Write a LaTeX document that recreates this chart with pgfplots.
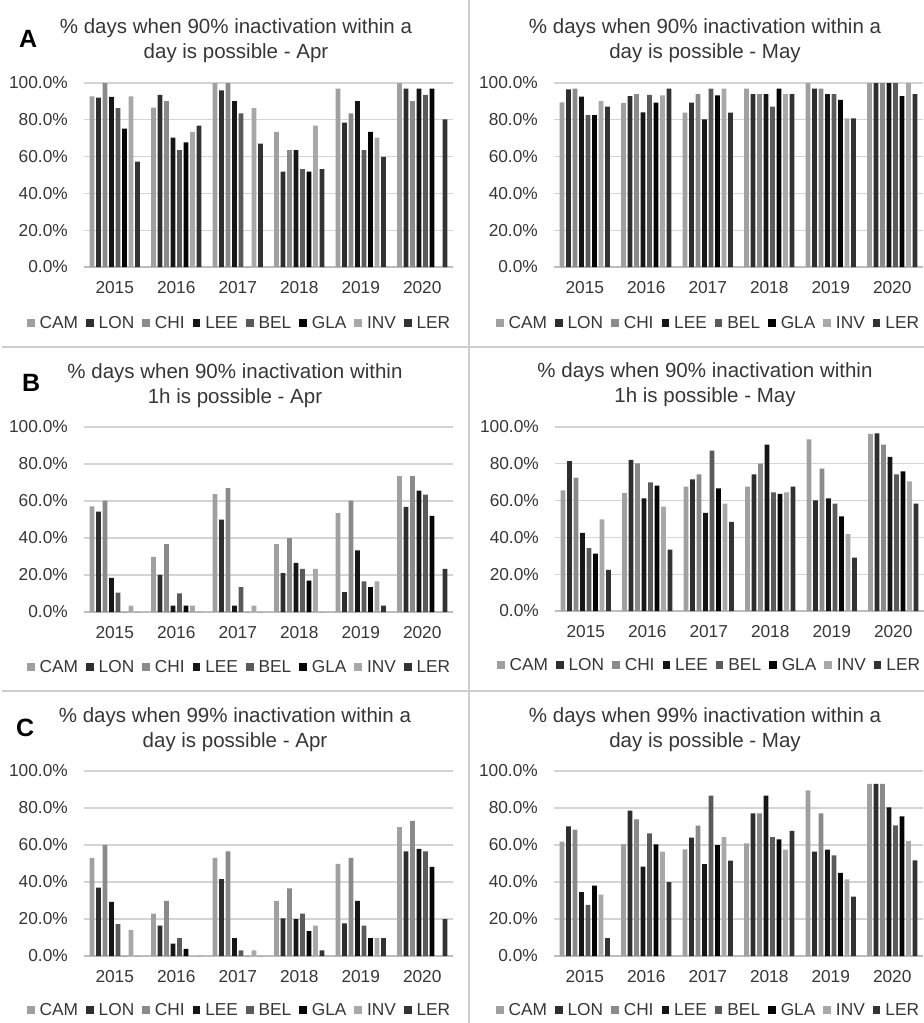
\documentclass[border=0pt]{standalone}
\usepackage{fontspec}
\setmainfont{Liberation Sans}
\usepackage{pgfplots}
\usepackage{pgfplotstable}
\pgfplotsset{compat=1.18}

% series colours (grey scale)
\definecolor{cCAM}{HTML}{A0A0A0}
\definecolor{cLON}{HTML}{2E2E2E}
\definecolor{cCHI}{HTML}{8A8A8A}
\definecolor{cLEE}{HTML}{161616}
\definecolor{cBEL}{HTML}{5A5A5A}
\definecolor{cGLA}{HTML}{050505}
\definecolor{cINV}{HTML}{A8A8A8}
\definecolor{cLER}{HTML}{333333}
\definecolor{txt}{HTML}{363636}
\definecolor{gridc}{HTML}{D4D4D4}
\definecolor{basec}{HTML}{BDBDBD}
\definecolor{sepc}{HTML}{CDCDCD}

% x = year index (0 = 2015 ... 5 = 2020), values in percent
\pgfplotstableread{
x CAM LON CHI LEE BEL GLA INV LER
0 92.8 92.0 100 92.4 86.4 75.2 92.8 57.3
1 86.6 93.5 90.1 70.3 63.5 67.8 73.4 76.9
2 100 96.0 100 90.1 83.5 0 86.4 67.1
3 73.4 51.9 63.5 63.5 53.2 51.9 76.9 53.2
4 96.9 78.5 83.5 90.1 63.5 73.4 70.3 59.9
5 100 96.9 90.1 96.9 93.5 96.9 0 80.3
}\dayNinetyApr

\pgfplotstableread{
x CAM LON CHI LEE BEL GLA INV LER
0 89.5 96.6 96.9 92.6 82.6 82.6 90.1 87.2
1 89.2 92.9 93.9 84.1 93.5 89.3 93.3 96.9
2 83.9 89.3 93.9 80.3 96.9 93.3 96.9 83.9
3 96.9 93.9 93.9 93.9 87.2 96.9 93.9 93.9
4 100 96.9 96.9 93.9 93.9 90.8 80.8 80.8
5 100 100 100 100 100 92.9 100 93.9
}\dayNinetyMay

\pgfplotstableread{
x CAM LON CHI LEE BEL GLA INV LER
0 57.1 54.2 60.2 18.4 10.5 0 3.4 0
1 29.8 20.1 36.7 3.4 10.1 3.4 3.4 0
2 63.7 49.9 66.9 3.4 13.4 0 3.4 0
3 36.7 21.0 40.0 26.6 23.3 17.0 23.3 0
4 53.5 10.8 60.2 33.3 16.6 13.4 16.6 3.4
5 73.4 56.8 73.4 65.6 63.5 51.9 0 23.3
}\hourNinetyApr

\pgfplotstableread{
x CAM LON CHI LEE BEL GLA INV LER
0 65.6 81.5 72.5 42.4 34.2 31.2 49.8 22.3
1 64.1 82.1 80.3 61.2 69.9 68.1 56.7 33.3
2 67.6 71.6 74.3 53.4 87.1 66.7 58.3 48.4
3 67.6 74.3 80.1 90.4 64.5 63.6 64.5 67.6
4 93.3 60.1 77.4 61.2 58.3 51.4 41.8 29.0
5 96.2 96.6 90.4 83.7 74.3 75.9 70.5 58.3
}\hourNinetyMay

\pgfplotstableread{
x CAM LON CHI LEE BEL GLA INV LER
0 53.1 37.0 60.1 29.2 17.3 0 14.1 0
1 22.9 16.4 29.8 6.7 9.7 3.8 0 0
2 53.1 41.5 56.5 9.7 3.1 0 3.1 0
3 29.8 20.4 36.5 19.9 22.9 13.5 16.4 3.1
4 49.8 17.7 53.1 29.8 16.4 9.7 9.7 9.7
5 69.7 56.5 73.1 57.9 56.5 48.2 0 19.9
}\dayNinetyNineApr

\pgfplotstableread{
x CAM LON CHI LEE BEL GLA INV LER
0 61.8 70.1 68.3 34.6 27.6 38.0 33.2 9.7
1 60.5 78.6 73.9 48.3 66.3 60.4 56.4 40.0
2 57.7 64.0 70.5 49.7 86.7 60.0 64.3 51.5
3 60.9 77.1 77.1 86.7 64.3 63.1 57.5 67.7
4 89.5 56.4 77.1 57.5 54.4 44.9 41.4 32.1
5 93.0 93.0 93.0 80.4 70.6 75.5 62.2 51.7
}\dayNinetyNineMay

\pgfplotsset{
  panel/.style={
    width=369bp, height=184bp, scale only axis, anchor=south west,
    ybar=1.9bp, bar width=4.6bp,
    xmin=-0.5, xmax=5.5, ymin=0, ymax=100,
    xtick={0,...,5}, xticklabels={2015,2016,2017,2018,2019,2020},
    ytick={0,20,...,100},
    yticklabel={\pgfmathprintnumber[fixed,fixed zerofill,precision=1]{\tick}\%},
    /pgf/number format/assume math mode=true,
    axis line style={draw=none},
    major tick length=0pt,
    ymajorgrids, grid style={gridc, line width=1.2bp},
    extra y ticks={0}, extra y tick labels={},
    extra y tick style={grid style={basec, line width=1.4bp}},
    tick label style={font=\fontsize{17.3bp}{20bp}\selectfont, text=txt},
    yticklabel style={inner sep=0pt, xshift=-16bp},
    xticklabel style={inner sep=0pt, yshift=-14.7bp},
    legend columns=8,
    legend image code/.code={\fill[##1,draw=none] (0bp,-3.8bp) rectangle (7.6bp,3.8bp);},
    legend style={draw=none, fill=none, inner sep=0pt, outer sep=0pt,
      font=\fontsize{17.3bp}{20bp}\selectfont, text=txt,
      nodes={inner sep=0pt},
      /tikz/every odd column/.append style={column sep=5bp},
      /tikz/every even column/.append style={column sep=8bp}},
  },
}

\newcommand\bars[1]{%
  \addplot[fill=cCAM,draw=none] table[x=x,y=CAM]{#1};
  \addplot[fill=cLON,draw=none] table[x=x,y=LON]{#1};
  \addplot[fill=cCHI,draw=none] table[x=x,y=CHI]{#1};
  \addplot[fill=cLEE,draw=none] table[x=x,y=LEE]{#1};
  \addplot[fill=cBEL,draw=none] table[x=x,y=BEL]{#1};
  \addplot[fill=cGLA,draw=none] table[x=x,y=GLA]{#1};
  \addplot[fill=cINV,draw=none] table[x=x,y=INV]{#1};
  \addplot[fill=cLER,draw=none] table[x=x,y=LER]{#1};
  \legend{CAM,LON,CHI,LEE,BEL,GLA,INV,LER}
}

\newcommand\ttl[4]{% x, baseline of first line, line 1, line 2
  \node[anchor=base, inner sep=0pt, text=txt, font=\fontsize{20.5bp}{25bp}\selectfont] at (#1bp,-#2bp) {#3};
  \node[anchor=base, inner sep=0pt, text=txt, font=\fontsize{20.5bp}{25bp}\selectfont] at (#1bp,-#2bp-24.5bp) {#4};
}

\begin{document}
\begin{tikzpicture}
\useasboundingbox (0,0) rectangle (924bp,-1023bp);

% panel frames
\draw[sepc, line width=1.5bp] (469bp,0) -- (469bp,-1023bp);
\draw[sepc, line width=1.5bp] (2bp,-347bp) -- (924bp,-347bp);
\draw[sepc, line width=1.5bp] (2bp,-691bp) -- (924bp,-691bp);

% panel letters
\node[anchor=base west, inner sep=0pt, font=\fontsize{25bp}{28bp}\selectfont\bfseries] at (19bp,-47bp) {A};
\node[anchor=base west, inner sep=0pt, font=\fontsize{25bp}{28bp}\selectfont\bfseries] at (22bp,-391bp) {B};
\node[anchor=base west, inner sep=0pt, font=\fontsize{25bp}{28bp}\selectfont\bfseries] at (16bp,-736bp) {C};

% titles
\ttl{236}{33.5}{\% days when 90\% inactivation within a}{day is possible - Apr}
\ttl{705}{33.5}{\% days when 90\% inactivation within a}{day is possible - May}
\ttl{235}{378.5}{\% days when 90\% inactivation within}{1h is possible - Apr}
\ttl{705}{377.5}{\% days when 90\% inactivation within}{1h is possible - May}
\ttl{235}{722.5}{\% days when 99\% inactivation within a}{day is possible - Apr}
\ttl{705}{722.5}{\% days when 99\% inactivation within a}{day is possible - May}

% A: 90% inactivation within a day
\begin{axis}[panel, at={(84bp,-267bp)}, height=184bp,
  legend style={at={(0.419,-0.304)}, anchor=center}]
  \bars{\dayNinetyApr}
\end{axis}
\begin{axis}[panel, at={(554bp,-267bp)}, height=184bp,
  legend style={at={(0.416,-0.304)}, anchor=center}]
  \bars{\dayNinetyMay}
\end{axis}

% B: 90% inactivation within 1h
\begin{axis}[panel, at={(84bp,-612bp)}, height=185bp,
  legend style={at={(0.419,-0.297)}, anchor=center}]
  \bars{\hourNinetyApr}
\end{axis}
\begin{axis}[panel, at={(555bp,-611bp)}, height=184bp,
  legend style={at={(0.416,-0.293)}, anchor=center}]
  \bars{\hourNinetyMay}
\end{axis}

% C: 99% inactivation within a day
\begin{axis}[panel, at={(84bp,-956bp)}, height=185bp,
  legend style={at={(0.419,-0.292)}, anchor=center}]
  \bars{\dayNinetyNineApr}
\end{axis}
\begin{axis}[panel, at={(554bp,-956bp)}, height=185bp,
  legend style={at={(0.416,-0.292)}, anchor=center}]
  \bars{\dayNinetyNineMay}
\end{axis}
\end{tikzpicture}
\end{document}
